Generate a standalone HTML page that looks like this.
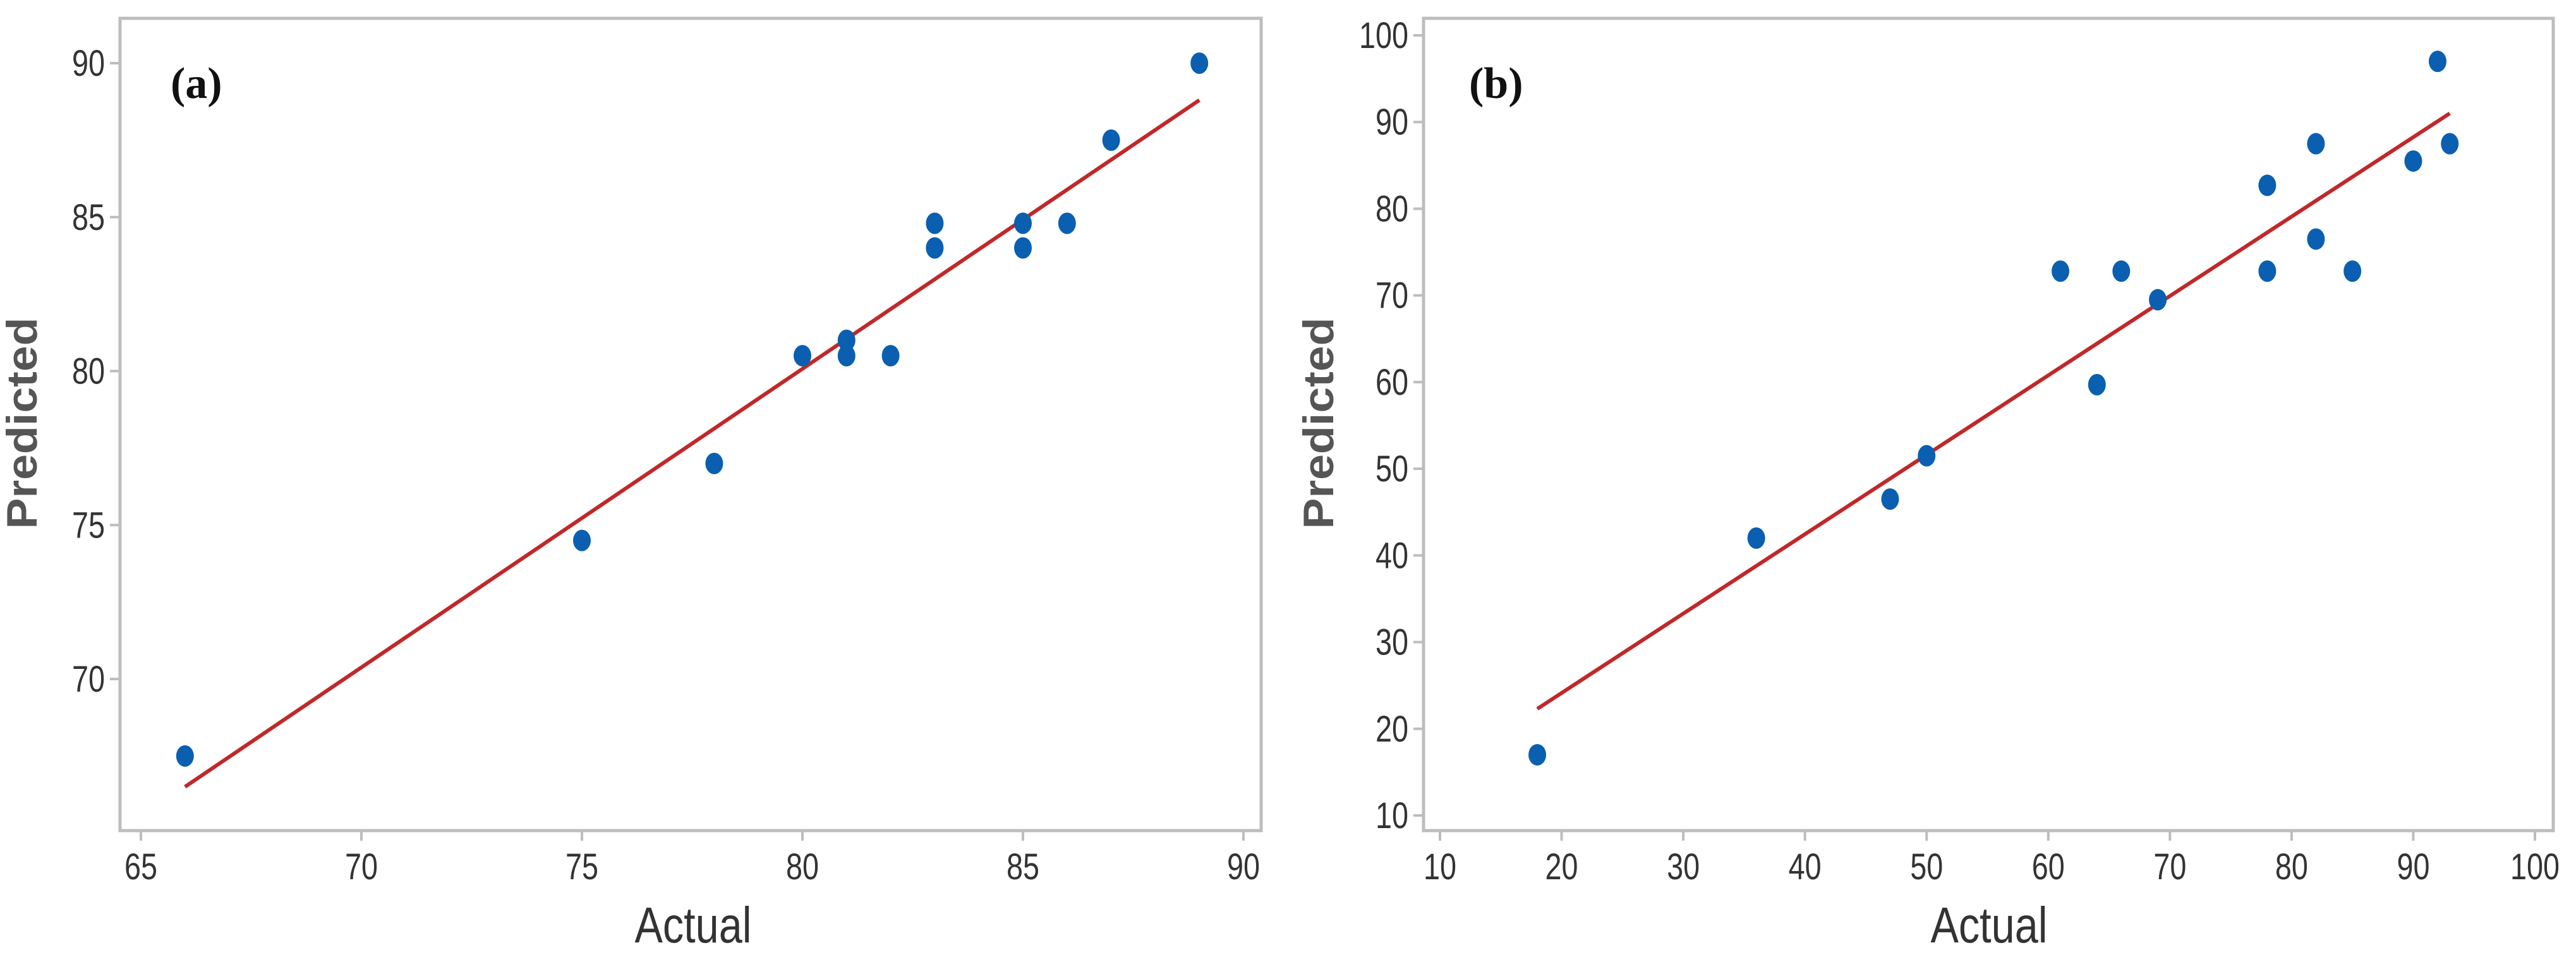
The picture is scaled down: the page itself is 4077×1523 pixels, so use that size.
<!DOCTYPE html>
<html><head><meta charset="utf-8">
<style>
html,body{margin:0;padding:0;background:#fff;}
svg{display:block;}
text{font-family:"Liberation Sans",sans-serif;fill:#333;}
</style></head>
<body>
<svg id="chart" width="4077" height="1523" viewBox="0 0 4077 1523" xmlns="http://www.w3.org/2000/svg"></svg>
<script>
// Panel (a) data
const aActual = [66, 75, 78, 80, 81, 81, 82, 83, 83, 85, 85, 86, 87, 89];
const aPredicted = [67.5, 74.5, 77, 80.5, 81, 80.5, 80.5, 84.8, 84, 84.8, 84, 84.8, 87.5, 90];
const aFitX = [66, 89];
const aFitY = [66.5, 88.8];
const aXTicks = [65, 70, 75, 80, 85, 90];
const aYTicks = [70, 75, 80, 85, 90];
// Panel (b) data
const bActual = [18, 36, 47, 50, 61, 64, 66, 69, 78, 78, 82, 82, 85, 90, 92, 93];
const bPredicted = [17, 42, 46.5, 51.5, 72.8, 59.7, 72.8, 69.5, 82.7, 72.8, 87.5, 76.5, 72.8, 85.5, 97, 87.5];
const bFitX = [18, 93];
const bFitY = [22.3, 91];
const bXTicks = [10, 20, 30, 40, 50, 60, 70, 80, 90, 100];
const bYTicks = [10, 20, 30, 40, 50, 60, 70, 80, 90, 100];

const NS = "http://www.w3.org/2000/svg";
const svg = document.getElementById("chart");
function mk(tag, attrs, parent) {
  const e = document.createElementNS(NS, tag);
  for (const k in attrs) e.setAttribute(k, attrs[k]);
  (parent || svg).appendChild(e);
  return e;
}

function panel(cfg) {
  const g = mk("g", {});
  
  
  const sx = v => cfg.x0px + (v - cfg.x0) * (cfg.x1px - cfg.x0px) / (cfg.x1 - cfg.x0);
  const sy = v => cfg.y0px + (v - cfg.y0) * (cfg.y1px - cfg.y0px) / (cfg.y1 - cfg.y0);
  const f = cfg.frame;
  const fr = mk("rect", {x: f[0], y: f[1], width: f[2] - f[0], height: f[3] - f[1], fill: "none", stroke: "#bdbdbd", "stroke-width": 5}, g);
  
  
  cfg.xt.forEach(t => {
    const l = mk("line", {x1: sx(t), x2: sx(t), y1: f[3], y2: f[3] + 16, stroke: "#bdbdbd", "stroke-width": 4}, g);
    
    
    const s = String(t);
    const tx = mk("text", {x: sx(t), y: 1392, "font-size": 58, "text-anchor": "middle", textLength: 26 * s.length, lengthAdjust: "spacingAndGlyphs"}, g);
    tx.textContent = s;
    
    
  });
  cfg.yt.forEach(t => {
    const l = mk("line", {x1: f[0] - 16, x2: f[0], y1: sy(t), y2: sy(t), stroke: "#bdbdbd", "stroke-width": 4}, g);
    
    
    const s = String(t);
    const tx = mk("text", {x: f[0] - 24, y: sy(t) + 20, "font-size": 58, "text-anchor": "end", textLength: 26 * s.length, lengthAdjust: "spacingAndGlyphs"}, g);
    tx.textContent = s;
    
    
  });
  const fit = mk("line", {x1: sx(cfg.fx[0]), y1: sy(cfg.fy[0]), x2: sx(cfg.fx[1]), y2: sy(cfg.fy[1]), stroke: "#c0282a", "stroke-width": 6}, g);
  
  
  cfg.xs.forEach((v, i) => {
    const p = mk("ellipse", {cx: sx(v), cy: sy(cfg.ys[i]), rx: 14, ry: 17, fill: "#0a5fb0"}, g);
    
    
  });
  const xl = mk("text", {x: cfg.xlab, y: 1492, "font-size": 80, "text-anchor": "middle", fill: "#444", textLength: 185, lengthAdjust: "spacingAndGlyphs"}, g);
  xl.textContent = "Actual";
  
  
  const yl = mk("text", {x: 0, y: 0, "font-size": 68, "text-anchor": "middle", "font-weight": "bold", textLength: 335, lengthAdjust: "spacingAndGlyphs", transform: "translate(" + cfg.ylab + ",670) rotate(-90)", style: "fill:#555"}, g);
  yl.textContent = "Predicted";
  
  
  const pl = mk("text", {x: cfg.plx, y: 155, "font-size": 70, "font-weight": "bold", style: "font-family:'Liberation Serif',serif;fill:#111"}, g);
  pl.textContent = cfg.label;
  
  
}

panel({name: "panel-a", frame: [190, 29, 1996, 1315], x0: 65, x1: 90, x0px: 223, x1px: 1968, y0: 70, y1: 90, y0px: 1075, y1px: 100,
  xt: aXTicks, yt: aYTicks, xs: aActual, ys: aPredicted, fx: aFitX, fy: aFitY, xlab: 1097, ylab: 58, plx: 270, label: "(a)"});
panel({name: "panel-b", frame: [2253, 29, 4041, 1315], x0: 10, x1: 100, x0px: 2279, x1px: 4012, y0: 10, y1: 100, y0px: 1291, y1px: 56,
  xt: bXTicks, yt: bYTicks, xs: bActual, ys: bPredicted, fx: bFitX, fy: bFitY, xlab: 3148, ylab: 2110, plx: 2325, label: "(b)"});
</script>
</body></html>
